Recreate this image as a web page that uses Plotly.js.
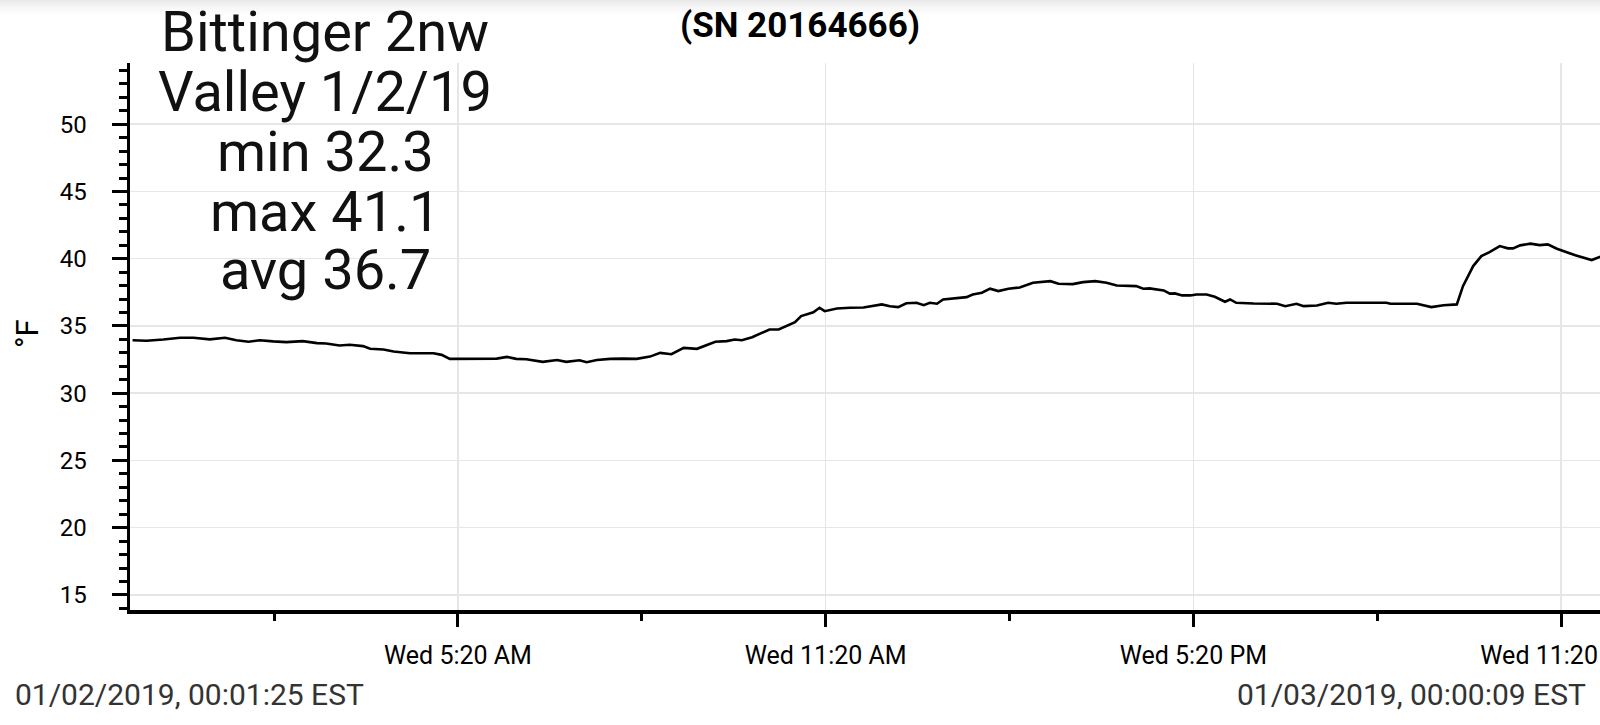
<!DOCTYPE html>
<html>
<head>
<meta charset="utf-8">
<script src="https://cdn.plot.ly/plotly-3.0.1.min.js"></script>
<style>
  html, body { margin: 0; padding: 0; }
  body { background: linear-gradient(to bottom, #e9e9e9 0px, #f6f6f6 7px, #ffffff 16px); }
  #chart { width: 1600px; height: 725px; }
</style>
</head>
<body>
<div id="chart"></div>
<script>
// ---------- DATA ----------
const titleText = "(SN 20164666)";
const infoLines = ["Bittinger 2nw", "Valley 1/2/19", "min 32.3", "max 41.1", "avg 36.7"];
const startLabel = "01/02/2019, 00:01:25 EST";
const endLabel = "01/03/2019, 00:00:09 EST";
const yAxisTitle = "°F";

const times = [
  "2019-01-02 00:01:25","2019-01-02 00:15","2019-01-02 00:31:30","2019-01-02 00:48","2019-01-02 01:01",
  "2019-01-02 01:17","2019-01-02 01:32","2019-01-02 01:43","2019-01-02 01:55","2019-01-02 02:06",
  "2019-01-02 02:19","2019-01-02 02:32","2019-01-02 02:48","2019-01-02 03:02","2019-01-02 03:11",
  "2019-01-02 03:24","2019-01-02 03:34","2019-01-02 03:47","2019-01-02 03:54","2019-01-02 04:07",
  "2019-01-02 04:17","2019-01-02 04:33","2019-01-02 04:56","2019-01-02 05:04","2019-01-02 05:12",
  "2019-01-02 05:25","2019-01-02 05:38","2019-01-02 05:58","2019-01-02 06:08","2019-01-02 06:17",
  "2019-01-02 06:27","2019-01-02 06:43","2019-01-02 06:57","2019-01-02 07:06","2019-01-02 07:19",
  "2019-01-02 07:26","2019-01-02 07:36","2019-01-02 07:49","2019-01-02 08:02","2019-01-02 08:15",
  "2019-01-02 08:28","2019-01-02 08:38","2019-01-02 08:49","2019-01-02 09:01","2019-01-02 09:14",
  "2019-01-02 09:32","2019-01-02 09:43","2019-01-02 09:51","2019-01-02 09:58","2019-01-02 10:08",
  "2019-01-02 10:25","2019-01-02 10:34","2019-01-02 10:50","2019-01-02 10:56","2019-01-02 11:08",
  "2019-01-02 11:14","2019-01-02 11:19","2019-01-02 11:31","2019-01-02 11:44","2019-01-02 11:57",
  "2019-01-02 12:15","2019-01-02 12:23","2019-01-02 12:31","2019-01-02 12:39","2019-01-02 12:49",
  "2019-01-02 12:56","2019-01-02 13:02","2019-01-02 13:09","2019-01-02 13:15","2019-01-02 13:38",
  "2019-01-02 13:44","2019-01-02 13:53","2019-01-02 14:01","2019-01-02 14:09","2019-01-02 14:19",
  "2019-01-02 14:30","2019-01-02 14:43","2019-01-02 15:00","2019-01-02 15:08","2019-01-02 15:22",
  "2019-01-02 15:32","2019-01-02 15:44","2019-01-02 15:55","2019-01-02 16:05","2019-01-02 16:24",
  "2019-01-02 16:31","2019-01-02 16:37","2019-01-02 16:51","2019-01-02 16:57","2019-01-02 17:02",
  "2019-01-02 17:09","2019-01-02 17:17","2019-01-02 17:23","2019-01-02 17:33","2019-01-02 17:41",
  "2019-01-02 17:51","2019-01-02 17:56","2019-01-02 18:02","2019-01-02 18:19","2019-01-02 18:42",
  "2019-01-02 18:50","2019-01-02 19:01","2019-01-02 19:08","2019-01-02 19:21","2019-01-02 19:32",
  "2019-01-02 19:40","2019-01-02 19:50","2019-01-02 20:29","2019-01-02 20:33","2019-01-02 20:59",
  "2019-01-02 21:13","2019-01-02 21:25","2019-01-02 21:38","2019-01-02 21:44","2019-01-02 21:54",
  "2019-01-02 22:02","2019-01-02 22:10","2019-01-02 22:20","2019-01-02 22:28","2019-01-02 22:33",
  "2019-01-02 22:40","2019-01-02 22:50","2019-01-02 22:59","2019-01-02 23:07","2019-01-02 23:16",
  "2019-01-02 23:25","2019-01-02 23:34","2019-01-02 23:50","2019-01-02 23:58","2019-01-03 00:00:09"
];
const tempsF = [
  33.94,33.90,33.99,34.12,34.12,
  34.00,34.12,33.94,33.82,33.94,
  33.85,33.80,33.87,33.72,33.70,
  33.55,33.60,33.50,33.30,33.25,
  33.10,32.97,32.97,32.85,32.55,
  32.55,32.60,32.57,32.70,32.55,
  32.52,32.33,32.47,32.33,32.45,
  32.30,32.47,32.55,32.57,32.55,
  32.72,33.00,32.90,33.37,33.30,
  33.82,33.87,33.99,33.94,34.16,
  34.74,34.74,35.28,35.73,36.02,
  36.35,36.10,36.30,36.35,36.37,
  36.60,36.47,36.40,36.69,36.72,
  36.54,36.72,36.65,36.97,37.14,
  37.34,37.47,37.77,37.59,37.77,
  37.86,38.21,38.33,38.14,38.11,
  38.26,38.33,38.21,38.01,37.96,
  37.77,37.79,37.64,37.40,37.42,
  37.27,37.27,37.34,37.34,37.17,
  36.80,36.97,36.72,36.67,36.65,
  36.47,36.65,36.47,36.52,36.72,
  36.65,36.72,36.72,36.65,36.65,
  36.40,36.54,36.60,37.96,39.45,
  40.19,40.49,40.94,40.77,40.77,
  40.99,41.12,41.01,41.06,40.74,
  40.49,40.25,39.90,40.15,40.20
];

const xRange = ["2019-01-01 23:58:53", "2019-01-02 23:58:10"];
const xTickVals = ["2019-01-02 05:20", "2019-01-02 11:20", "2019-01-02 17:20", "2019-01-02 23:20"];
const xTickText = ["Wed 5:20 AM", "Wed 11:20 AM", "Wed 5:20 PM", "Wed 11:20 PM"];
const xMinorVals = ["2019-01-02 02:20", "2019-01-02 08:20", "2019-01-02 14:20", "2019-01-02 20:20"];
const yRange = [13.88, 54.55];
const yTickVals = [15, 20, 25, 30, 35, 40, 45, 50];

// ---------- LAYOUT ----------
const W = 1600, H = 725;
const M = { l: 130, r: 0, t: 63, b: 115 };
const plotW = W - M.l - M.r, plotH = H - M.t - M.b;
const px = x => (x - M.l) / plotW;
const py = y => (H - M.b - y) / plotH;
const FONT = "Roboto, 'Open Sans', sans-serif";

const infoCenters = [32, 92, 152, 212, 270];
const annotations = infoLines.map((t, i) => ({
  text: t, xref: "paper", yref: "paper",
  x: px(325), y: py(infoCenters[i]), xanchor: "center", yanchor: "middle",
  showarrow: false, font: { family: FONT, size: 56, color: "#111" }
}));
annotations.push({
  text: startLabel, xref: "paper", yref: "paper", x: px(13), y: py(694),
  xanchor: "left", yanchor: "middle", showarrow: false,
  font: { family: FONT, size: 30, color: "#333" }
});
annotations.push({
  text: endLabel, xref: "paper", yref: "paper", x: px(1588), y: py(694),
  xanchor: "right", yanchor: "middle", showarrow: false,
  font: { family: FONT, size: 30, color: "#333" }
});
annotations.push({
  text: yAxisTitle, xref: "paper", yref: "paper", x: px(27), y: py(334),
  xanchor: "center", yanchor: "middle", textangle: -90, showarrow: false,
  font: { family: FONT, size: 31, color: "#000" }
});

const trace = {
  x: times, y: tempsF, type: "scatter", mode: "lines",
  line: { color: "#000", width: 2.6 }, hoverinfo: "skip"
};

const layout = {
  width: W, height: H,
  margin: M,
  paper_bgcolor: "rgba(0,0,0,0)",
  plot_bgcolor: "rgba(0,0,0,0)",
  showlegend: false,
  font: { family: FONT, color: "#000" },
  title: {
    text: titleText, xref: "container", yref: "container",
    x: 0.5, xanchor: "center", y: 1 - 24.5 / H, yanchor: "middle",
    font: { family: FONT, size: 35, weight: 700, color: "#000" }
  },
  xaxis: {
    type: "date", range: xRange, fixedrange: true,
    tickmode: "array", tickvals: xTickVals, ticktext: xTickText,
    tickfont: { family: FONT, size: 25, color: "#000" },
    ticks: "outside", ticklen: 13, tickwidth: 3, tickcolor: "#000",
    ticklabelstandoff: 7, ticklabeloverflow: "allow",
    showline: true, linecolor: "#000", linewidth: 3.5,
    showgrid: true, gridcolor: "#e6e6e6", gridwidth: 1.5,
    zeroline: false,
    minor: { tickmode: "array", tickvals: xMinorVals, ticks: "outside", ticklen: 7, tickwidth: 3, tickcolor: "#000", showgrid: false }
  },
  yaxis: {
    range: yRange, fixedrange: true,
    tickmode: "array", tickvals: yTickVals,
    tickfont: { family: FONT, size: 24, color: "#000" },
    ticks: "outside", ticklen: 15, tickwidth: 3, tickcolor: "#000",
    ticklabelstandoff: 20,
    showline: true, linecolor: "#000", linewidth: 3.5,
    showgrid: true, gridcolor: "#e6e6e6", gridwidth: 1.5,
    zeroline: false,
    minor: { dtick: 1, tick0: 0, ticks: "outside", ticklen: 8, tickwidth: 3, tickcolor: "#000", showgrid: false }
  },
  annotations: annotations
};

Plotly.newPlot("chart", [trace], layout, { staticPlot: true, displayModeBar: false });
</script>
</body>
</html>
